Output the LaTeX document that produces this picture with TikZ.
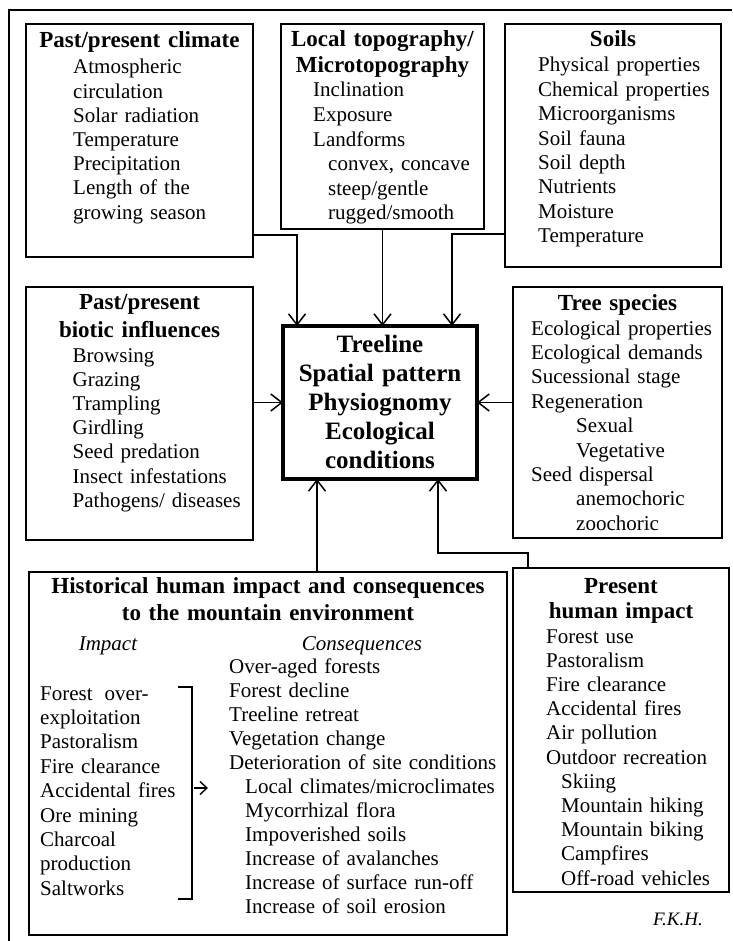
\documentclass[tikz,border=0pt]{standalone}
\usepackage{fontspec}
\setmainfont{Liberation Serif}
\usetikzlibrary{arrows.meta}
\begin{document}
\begin{tikzpicture}[x=1pt,y=-1pt,
  box/.style={draw, line width=1.3pt, inner sep=0pt, outer sep=0pt, anchor=north west},
  corebox/.style={draw, line width=3.6pt, inner sep=0pt, outer sep=0pt, anchor=north west},
  head/.style={inner sep=0pt, anchor=base, align=center, text width=#1,
    font=\bfseries\fontsize{23}{26.5}\selectfont},
  head/.default=220pt,
  itemlist/.style={inner sep=0pt, anchor=base west, align=left, text width=300pt,
    font=\fontsize{21}{#1}\selectfont},
  itemlist/.default=24.3pt,
  colhead/.style={inner sep=0pt, anchor=base, font=\itshape\fontsize{21}{24}\selectfont},
  arr/.style={line width=1.5pt, -{Straight Barb[length=11pt,width=17pt,line width=1.5pt]}},
  frame/.style={line width=2pt}
]
\useasboundingbox (0,0) rectangle (732,941);
\fill[white] (0,0) rectangle (732,941);

% outer frame (top and left only)
\draw[frame] (9,941) -- (9,10) -- (732,10);

% boxes
\node[box, minimum width=227pt, minimum height=233pt] (clim) at (26,24) {};
\node[box, minimum width=203pt, minimum height=205pt] (topo) at (281,24) {};
\node[box, minimum width=216pt, minimum height=243pt] (soil) at (505,24) {};
\node[box, minimum width=227pt, minimum height=253pt] (bio) at (26,287) {};
\node[box, minimum width=209pt, minimum height=251pt] (tree) at (513,287) {};
\node[corebox, minimum width=194pt, minimum height=153pt] (core) at (283,326) {};
\node[box, minimum width=478pt, minimum height=363pt] (hist) at (29,572) {};
\node[box, minimum width=216pt, minimum height=324pt] (pres) at (513,568) {};

% climate
\node[head] (climT) at (139.5,48) {Past/present climate};
\node[itemlist=24.2pt] (climL) at (73,74) {Atmospheric\\circulation\\Solar radiation\\Temperature\\Precipitation\\Length of the\\growing season};

% topography
\node[head, font=\bfseries\fontsize{23}{26}\selectfont] (topoT) at (382.5,47) {Local topography/\\Microtopography};
\node[itemlist=24.6pt] (topoL) at (313,97) {Inclination\\Exposure\\Landforms\\\hspace*{15pt}convex, concave\\\hspace*{15pt}steep/gentle\\\hspace*{15pt}rugged/smooth};

% soils
\node[head] (soilT) at (613,47) {Soils};
\node[itemlist=24.4pt] (soilL) at (538,72) {Physical properties\\Chemical properties\\Microorganisms\\Soil fauna\\Soil depth\\Nutrients\\Moisture\\Temperature};

% biotic influences
\node[head, font=\bfseries\fontsize{23}{28}\selectfont] (bioT) at (139.5,309) {Past/present\\biotic influences};
\node[itemlist=24.2pt] (bioL) at (72.5,362) {Browsing\\Grazing\\Trampling\\Girdling\\Seed predation\\Insect infestations\\Pathogens/ diseases};

% tree species
\node[head] (treeT) at (617.5,310) {Tree species};
\node[itemlist=24.4pt] (treeL) at (531,335) {Ecological properties\\Ecological demands\\Sucessional stage\\Regeneration\\\hspace*{45pt}Sexual\\\hspace*{45pt}Vegetative\\Seed dispersal\\\hspace*{45pt}anemochoric\\\hspace*{45pt}zoochoric};

% central box
\node[head=194pt, font=\bfseries\fontsize{25}{29}\selectfont] (coreT) at (380,352) {Treeline\\Spatial pattern\\Physiognomy\\Ecological\\conditions};

% historical human impact
\node[head=478pt, font=\bfseries\fontsize{23}{27}\selectfont] (histT) at (268,593) {Historical human impact and consequences\\to the mountain environment};
\node[colhead] (impH) at (108,650) {Impact};
\node[colhead] (conH) at (362,650) {Consequences};
\node[itemlist=24.4pt] (impL) at (40,700) {Forest\hspace*{12pt}over-\\exploitation\\Pastoralism\\Fire clearance\\Accidental fires\\Ore mining\\Charcoal\\production\\Saltworks};
\node[itemlist=24pt] (conL) at (229,673) {Over-aged forests\\Forest decline\\Treeline retreat\\Vegetation change\\Deterioration of site conditions\\\hspace*{16pt}Local climates/microclimates\\\hspace*{16pt}Mycorrhizal flora\\\hspace*{16pt}Impoverished soils\\\hspace*{16pt}Increase of avalanches\\\hspace*{16pt}Increase of surface run-off\\\hspace*{16pt}Increase of soil erosion};

% bracket and arrow from impacts to consequences
\draw[line width=2.2pt] (178,687) -- (192,687) -- (192,899) -- (178,899);
\coordinate (brk) at (194,788);
\draw[line width=1.4pt, -{Straight Barb[length=7pt,width=13pt,line width=1.4pt]}] (brk) -- ++(14,0);

% present human impact
\node[head, font=\bfseries\fontsize{23}{25}\selectfont] (presT) at (621,593) {Present\\human impact};
\node[itemlist=24.2pt] (presL) at (546,643) {Forest use\\Pastoralism\\Fire clearance\\Accidental fires\\Air pollution\\Outdoor recreation\\\hspace*{15pt}Skiing\\\hspace*{15pt}Mountain hiking\\\hspace*{15pt}Mountain biking\\\hspace*{15pt}Campfires\\\hspace*{15pt}Off-road vehicles};

% initials
\node[inner sep=0pt, anchor=base east, font=\itshape\fontsize{19}{22}\selectfont] (fkh) at (703,925) {F.K.H.};

% connectors into the central box
\coordinate (cA) at ([xshift=14pt]core.north west);
\coordinate (cB) at ([xshift=-25pt]core.north east);
\coordinate (cC) at ([xshift=34pt]core.south west);
\coordinate (cD) at ([xshift=-39pt]core.south east);
\coordinate (pA) at ([xshift=15pt]pres.north west);

\draw[arr] ([yshift=22pt]clim.south east) -| (cA);
\draw[arr] (topo.south) -- (topo.south |- core.north);
\draw[arr] ([yshift=33pt]soil.south west) -| (cB);
\draw[arr] (core.west -| bio.east) -- (core.west);
\draw[arr] (core.east -| tree.west) -- (core.east);
\draw[arr] (cC |- hist.north) -- (cC);
\draw[arr] (pA) -- ++(0,-15) -| (cD);
\end{tikzpicture}
\end{document}
